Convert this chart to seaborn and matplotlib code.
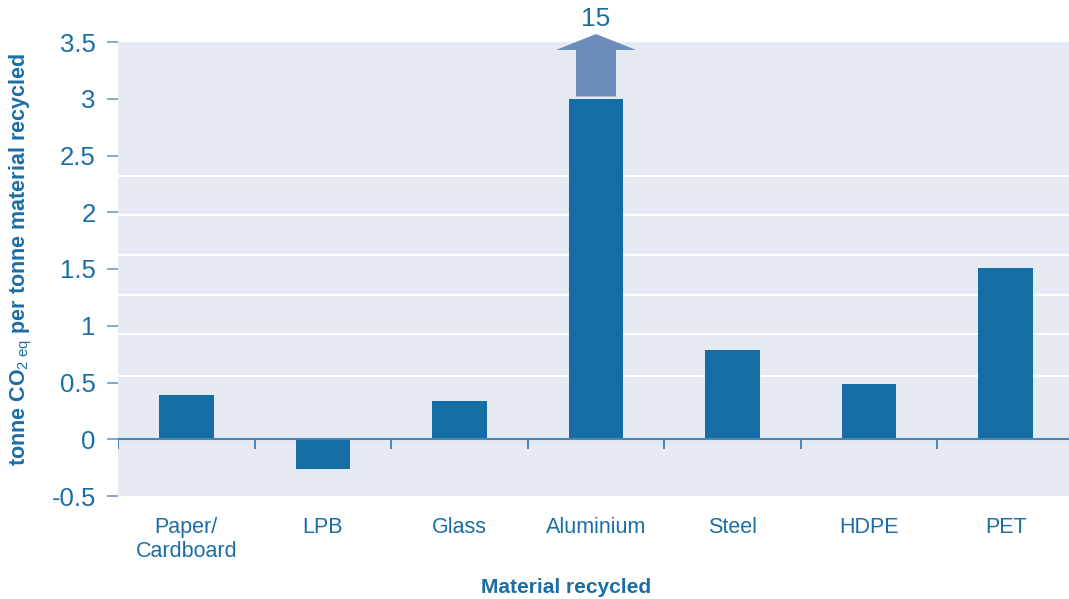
import numpy as np
import pandas as pd
import matplotlib
matplotlib.use('Agg')
import matplotlib.pyplot as plt
from matplotlib.patches import FancyArrow
import seaborn as sns

# dados
materials = ['Paper/\nCardboard', 'LPB', 'Glass', 'Aluminium', 'Steel', 'HDPE', 'PET']
savings = [0.39, -0.26, 0.34, 3.0, 0.79, 0.49, 1.51]
aluminium_true = 15
y_ticks = [-0.5, 0, 0.5, 1, 1.5, 2, 2.5, 3, 3.5]
y_tick_labels = ['-0.5', '0', '0.5', '1', '1.5', '2', '2.5', '3', '3.5']

BAR = '#156ea3'
TXT = '#1a6ea5'
ARROW = '#6a8dba'
BG = '#e4e9f2'

sns.set_style('white')
plt.rcParams['font.family'] = ['Liberation Sans', 'DejaVu Sans']
plt.rcParams['mathtext.fontset'] = 'custom'
plt.rcParams['mathtext.rm'] = 'Liberation Sans'
plt.rcParams['mathtext.it'] = 'Liberation Sans'
plt.rcParams['mathtext.bf'] = 'Liberation Sans:bold'

df = pd.DataFrame({'material': materials, 'value': savings})

fig = plt.figure(figsize=(10.69, 5.99), dpi=100)
ax = fig.add_axes([118 / 1069, 1 - 496 / 599, 956 / 1069, 454 / 599])
ax.set_facecolor(BG)

# linhas de grade (desalinhadas dos ticks, como no original)
for g in [0.56, 0.93, 1.27, 1.62, 1.98, 2.32]:
    ax.axhline(g, color='white', lw=1.6, zorder=0.5)

sns.barplot(data=df, x='material', y='value', color=BAR, saturation=1,
            width=0.4, ax=ax, zorder=2, linewidth=0)

ax.set_xlim(-0.5, 6.5)
ax.set_ylim(-0.5, 3.5)

# linha do zero e marcas entre categorias
ax.axhline(0, color='#4a86b8', lw=1.5, zorder=3)
ax.vlines(np.arange(-0.5, 7), -0.09, 0, color='#3c7fb5', lw=1.3, zorder=3)

# seta do aluminio (valor real fora da escala)
arrow = FancyArrow(3, 3.02, 0, 0.55, width=0.293, head_width=0.586,
                   head_length=0.14, length_includes_head=True,
                   color=ARROW, lw=0, clip_on=False, zorder=4)
ax.add_patch(arrow)
ax.text(3, 3.7, str(aluminium_true), ha='center', va='center',
        fontsize=19, color=TXT, clip_on=False)

for s in ax.spines.values():
    s.set_visible(False)

ax.set_yticks(y_ticks)
ax.set_yticklabels(y_tick_labels, fontsize=18.5, color=TXT)
ax.tick_params(axis='y', length=8, width=1.2, color='#6a9cc6', pad=8, left=True)
ax.tick_params(axis='x', length=0, pad=15, labelsize=15.5, labelcolor=TXT)

ax.set_xlabel('Material recycled', fontsize=15, fontweight='bold', color=TXT)
ax.xaxis.set_label_coords(0.4686, -0.18)
ax.set_ylabel('tonne CO$_{2\\ \\mathrm{eq}}$ per tonne material recycled',
              fontsize=15.5, fontweight='bold', color=TXT)
ax.yaxis.set_label_coords(-0.088, 0.52)

plt.savefig('out.png', dpi=100)
plt.close()
